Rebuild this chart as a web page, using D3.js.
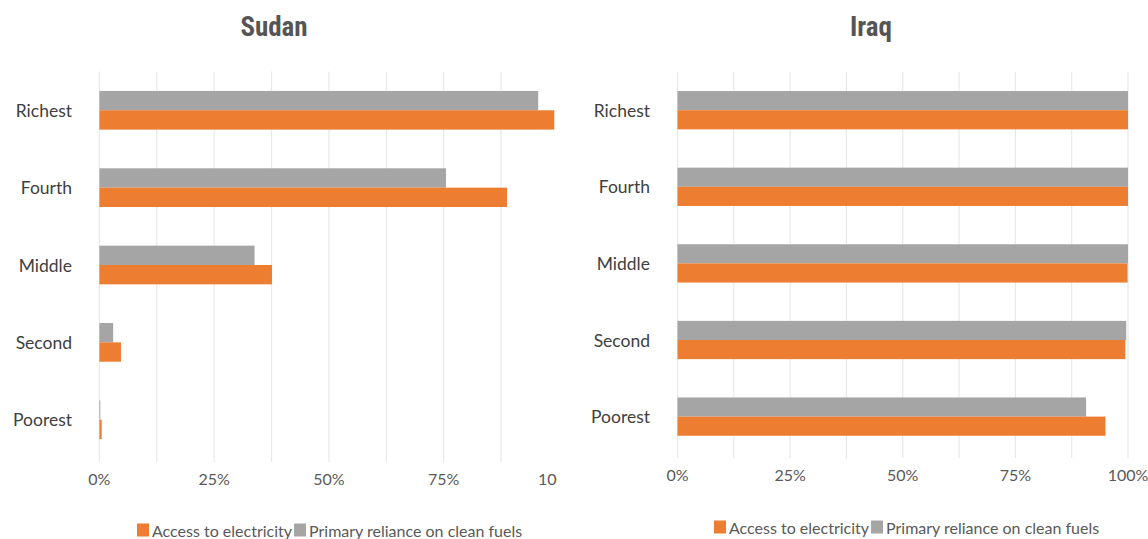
<!DOCTYPE html>
<html><head><meta charset="utf-8">
<script src="https://cdn.jsdelivr.net/npm/d3@7"></script>
<style>
html,body{margin:0;padding:0;background:#fff;}
svg{display:block;}
</style></head>
<body>
<svg id="chart" width="1148" height="539"></svg>
<script>
const categories = ["Richest","Fourth","Middle","Second","Poorest"];
const seriesNames = ["Primary reliance on clean fuels","Access to electricity"];
const sudanCleanFuels = [95.6, 75.5, 33.8, 3.0, 0.2];
const sudanElectricity = [99.1, 88.8, 37.6, 4.7, 0.5];
const iraqCleanFuels = [100, 100, 100, 99.6, 90.7];
const iraqElectricity = [100, 100, 99.9, 99.4, 95.0];
const tickValues = [0, 25, 50, 75, 100];
const tickLabels = ["0%","25%","50%","75%","100%"];
const gridValues = [0, 12.5, 25, 37.5, 50, 62.5, 75, 87.5, 100];
const legendLabels = ["Access to electricity","Primary reliance on clean fuels"];
const colors = {"Access to electricity":"#ED7D31","Primary reliance on clean fuels":"#A5A5A5"};

const svg = d3.select("#chart");
const FONT = "Lato, 'Open Sans', sans-serif";

function panel(cfg){
  const g = svg.append("g");
  if (cfg.clipRight){
    const id = "clip-" + cfg.title;
    svg.append("defs").append("clipPath").attr("id", id)
      .append("rect").attr("x",0).attr("y",0).attr("width",cfg.clipRight).attr("height",539);
    g.attr("clip-path", `url(#${id})`);
  }
  const x = d3.scaleLinear().domain([0,100]).range(cfg.xRange);
  const y = d3.scaleBand().domain(categories).range(cfg.yRange).paddingInner(0.5).paddingOuter(0.25);
  const ys = d3.scaleBand().domain(seriesNames).range([0, y.bandwidth()]);

  // gridlines
  g.append("g").selectAll("line").data(gridValues).join("line")
    .attr("x1", d => x(d)).attr("x2", d => x(d))
    .attr("y1", cfg.yRange[0]).attr("y2", cfg.gridBottom)
    .attr("stroke", "#E8E8E8").attr("stroke-width", 1.2);

  // bars
  const data = [];
  categories.forEach((c,i)=>{
    data.push({cat:c, s:seriesNames[0], v:cfg.fuels[i]});
    data.push({cat:c, s:seriesNames[1], v:cfg.elec[i]});
  });
  g.append("g").selectAll("rect").data(data).join("rect")
    .attr("x", x(0))
    .attr("y", d => y(d.cat) + ys(d.s))
    .attr("width", d => Math.max(0.8, x(d.v) - x(0)))
    .attr("height", ys.bandwidth())
    .attr("fill", d => colors[d.s]);

  // category labels
  g.append("g").selectAll("text").data(categories).join("text")
    .attr("x", cfg.labelRight)
    .attr("y", d => y(d) + y.bandwidth()/2)
    .attr("text-anchor","end").attr("dominant-baseline","central")
    .attr("font-family", FONT).attr("font-size", 17.5)
    .attr("fill", "#404040")
    .text(d => d);

  // x tick labels
  g.append("g").selectAll("text").data(tickValues).join("text")
    .attr("x", d => x(d))
    .attr("y", cfg.tickY)
    .attr("text-anchor","middle").attr("dominant-baseline","central")
    .attr("font-family", FONT).attr("font-size", 16)
    .attr("fill", "#595959")
    .text((d,i) => tickLabels[i]);

  // title
  svg.append("text")
    .attr("x", cfg.titleX).attr("y", 27)
    .attr("text-anchor","middle").attr("dominant-baseline","central")
    .attr("font-family", "'Roboto Condensed','Liberation Sans Narrow','DejaVu Sans Condensed',sans-serif")
    .attr("font-stretch","condensed")
    .attr("font-weight","bold").attr("font-size", 27)
    .attr("fill", "#555555")
    .text(cfg.title);

  // legend
  const lg = svg.append("g").attr("transform", `translate(${cfg.legendX},${cfg.legendY})`);
  let cx = 0;
  legendLabels.forEach((lab) => {
    lg.append("rect").attr("x", cx).attr("y", -6.5).attr("width", 12).attr("height", 13)
      .attr("fill", colors[lab]);
    const t = lg.append("text").attr("x", cx + 15).attr("y", 0)
      .attr("dominant-baseline","central")
      .attr("font-family", FONT).attr("font-size", 16)
      .attr("fill", "#595959").text(lab);
    cx += 15 + t.node().getComputedTextLength() + 2;
  });
}

panel({title:"Sudan", titleX:274, xRange:[99.4, 558.4], yRange:[71.6, 458.4], gridBottom:462,
  fuels:sudanCleanFuels, elec:sudanElectricity, labelRight:72, tickY:478, legendX:137, legendY:530, clipRight:557});
panel({title:"Iraq", titleX:871, xRange:[677.5, 1128], yRange:[71.9, 454.9], gridBottom:458,
  fuels:iraqCleanFuels, elec:iraqElectricity, labelRight:650, tickY:474, legendX:714, legendY:527});
</script>
</body></html>
